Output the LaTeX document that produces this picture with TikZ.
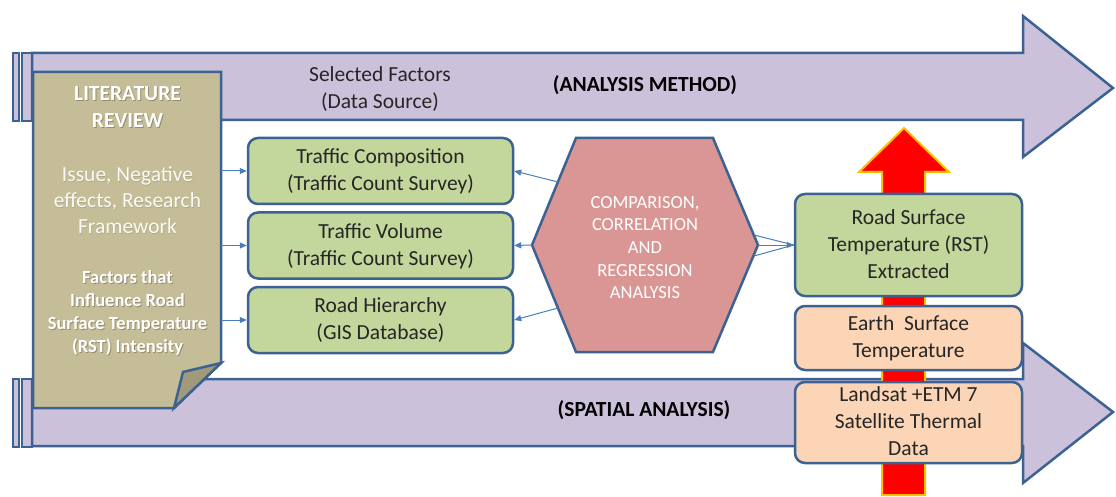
\documentclass[tikz,border=0pt]{standalone}
\usepackage{fontspec}
\setmainfont{Carlito}
\usetikzlibrary{arrows.meta}
\definecolor{bord}{HTML}{3B6292}
\definecolor{lav}{HTML}{CCC1DA}
\definecolor{tan}{HTML}{C4BD97}
\definecolor{fold}{HTML}{A09A7A}
\definecolor{grn}{HTML}{C3D69B}
\definecolor{peach}{HTML}{FBD5B5}
\definecolor{hexc}{HTML}{D99694}
\definecolor{conn}{HTML}{4A7EBB}
\definecolor{gold}{HTML}{FFC000}
\definecolor{shad}{HTML}{6E6950}
\newcommand{\fsA}{\fontsize{21.5}{27}\selectfont}
\newcommand{\fsB}{\fontsize{18.5}{22.7}\selectfont}
\newcommand{\fsC}{\fontsize{21.5}{26}\selectfont}
\begin{document}
\begin{tikzpicture}[x=1pt,y=-1pt,
  shapeline/.style={draw=bord,line width=2.5pt,line join=miter},
  bigarrow/.style={shapeline,fill=lav},
  box/.style={draw=bord,line width=2.5pt,rounded corners=10pt,align=center,font=\fsA,inner sep=0pt,text=black!85,text depth=2pt},
  greenbox/.style={box,fill=grn,minimum width=265pt,minimum height=66pt},
  connarrow/.style={draw=conn,line width=1pt,-{Triangle[length=7pt,width=6pt]}},
  plainconn/.style={draw=conn,line width=1pt},
  littext/.style={align=center,text=white},
  litshadow/.style={align=center,text=shad,opacity=0.55}
]
\useasboundingbox (0,0) rectangle (1116,497);
\fill[white] (0,0) rectangle (1116,497);

% top striped arrow
\draw[bigarrow] (13,53) rectangle (19,121);
\draw[bigarrow] (22,53) rectangle (32,121);
\draw[bigarrow] (32,53) -- (1023,53) -- (1023,16) -- (1113,88) -- (1023,157) -- (1023,120) -- (32,120) -- cycle;
% bottom striped arrow
\draw[bigarrow] (13,379) rectangle (19,447);
\draw[bigarrow] (22,379) rectangle (32,447);
\draw[bigarrow] (32,379) -- (1023,379) -- (1023,343) -- (1113,412) -- (1023,483) -- (1023,446) -- (32,446) -- cycle;

\node[align=center,font=\fsA,text=black!85] (sel) at (380,89.5) {Selected Factors\\(Data Source)};
\node[font=\fsA\bfseries,text=black] (am) at (645,85) {(ANALYSIS METHOD)};
\node[font=\fsA\bfseries,text=black] (sa) at (644,410) {(SPATIAL ANALYSIS)};

% literature review (folded note)
\draw[shapeline,fill=tan] (33,72) -- (221,72) -- (221,363) -- (174,408) -- (33,408) -- cycle;
\draw[shapeline,fill=fold] (221,363) -- (183,372) -- (174,408) -- cycle;
\coordinate (litE) at (221,245);
\node[litshadow,font=\fsA\bfseries] (lit1s) at (128.5,108.5) {LITERATURE\\REVIEW};
\node[littext,font=\fsA\bfseries] (lit1) at (127.5,107.5) {LITERATURE\\REVIEW};
\node[litshadow,font=\fsC,opacity=0.25] (lit2s) at (128,201) {Issue, Negative\\effects, Research\\Framework};
\node[littext,font=\fsC,text=white!92!tan] (lit2) at (127.5,200.5) {Issue, Negative\\effects, Research\\Framework};
\node[litshadow,font=\fsB\bfseries] (lit3s) at (128.5,314) {Factors that\\Influence Road\\Surface Temperature\\(RST) Intensity};
\node[littext,font=\fsB\bfseries] (lit3) at (127.5,313) {Factors that\\Influence Road\\Surface Temperature\\(RST) Intensity};

% green factor boxes
\node[greenbox] (b1) at (380.5,171) {Traffic Composition\\(Traffic Count Survey)};
\node[greenbox] (b2) at (380.5,245.5) {Traffic Volume\\(Traffic Count Survey)};
\node[greenbox] (b3) at (380.5,320) {Road Hierarchy\\(GIS Database)};

\draw[connarrow] (litE |- b1.west) -- (b1.west);
\draw[connarrow] (litE |- b2.west) -- (b2.west);
\draw[connarrow] (litE |- b3.west) -- (b3.west);

% hexagon
\draw[shapeline,fill=hexc] (576,138) -- (713,138) -- (758,245) -- (713,352) -- (576,352) -- (532,245) -- cycle;
\node[align=center,font=\fsB,text=white] (hex) at (645,247.5) {COMPARISON,\\CORRELATION\\AND\\REGRESSION\\ANALYSIS};
\coordinate (hL1) at (558,182);
\coordinate (hL2) at (532,245);
\coordinate (hL3) at (558,308);
\coordinate (hR1) at (754,235);
\coordinate (hR2) at (758,245);
\coordinate (hR3) at (754,256);

% red upward arrow
\draw[draw=gold,fill=red,line width=2pt,line join=miter] (882,495) -- (882,172) -- (859,172) -- (904,128) -- (949,172) -- (925,172) -- (925,495) -- cycle;

% right boxes
\node[box,fill=grn,minimum width=227pt,minimum height=102pt] (rst) at (908.5,245) {Road Surface\\Temperature (RST)\\Extracted};
\node[box,fill=peach,minimum width=227pt,minimum height=64pt] (est) at (908.5,338) {Earth\ \ Surface\\Temperature};
\node[box,fill=peach,minimum width=227pt,minimum height=81pt] (lsat) at (908.5,422.5) {Landsat +ETM 7\\Satellite Thermal\\Data};

% connectors from hexagon
\draw[connarrow] (hL1) -- (b1.east);
\draw[connarrow] (hL2) -- (b2.east);
\draw[connarrow] (hL3) -- (b3.east);
\draw[plainconn] (hR1) -- (rst.west);
\draw[plainconn] (hR3) -- (rst.west);
\draw[connarrow] (hR2) -- (rst.west);
\end{tikzpicture}
\end{document}
